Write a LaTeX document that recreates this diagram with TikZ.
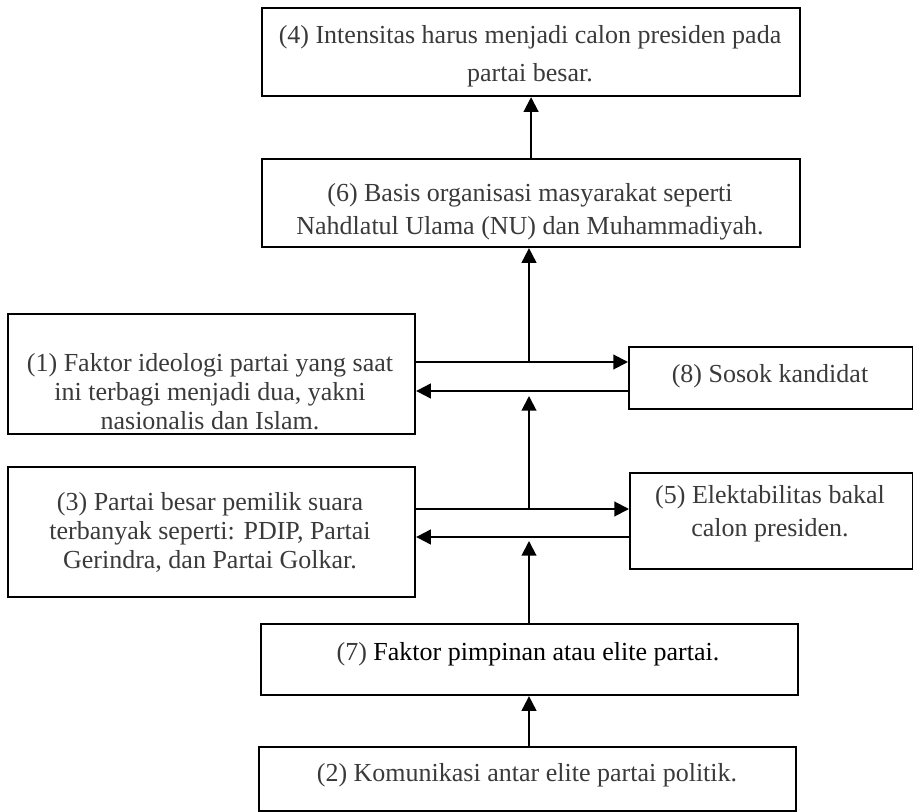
\documentclass[tikz,border=0pt]{standalone}
\usepackage{fontspec}
\setmainfont{Liberation Serif}
\usetikzlibrary{arrows.meta}
\definecolor{txt}{HTML}{3A3A3A}
\begin{document}
\begin{tikzpicture}[x=0.75pt,y=-0.75pt,
  box/.style={draw=black,line width=1.6pt,inner sep=0pt,anchor=north west},
  lbl/.style={text=txt,align=center,font=\fontsize{19.5}{21.75}\selectfont,inner sep=0pt},
  wide/.style={font=\fontsize{19.5}{#1}\selectfont},
  arr/.style={-{Triangle[length=11pt,width=11pt]},line width=1.5pt}]
\useasboundingbox (0,0) rectangle (913,812);
% boxes
\node[box,minimum width=403.5pt,minimum height=66pt] (b4) at (261,7) {};
\node[box,minimum width=403.5pt,minimum height=66pt] (b6) at (261,158) {};
\node[box,minimum width=305.25pt,minimum height=90pt] (b1) at (7,313) {};
\node[box,minimum width=213pt,minimum height=46.5pt] (b8) at (628,346) {};
\node[box,minimum width=305.25pt,minimum height=97.5pt] (b3) at (7,466) {};
\node[box,minimum width=212.25pt,minimum height=72pt] (b5) at (629,472) {};
\node[box,minimum width=402.75pt,minimum height=53.25pt] (b7) at (260,623) {};
\node[box,minimum width=402.75pt,minimum height=48pt] (b2) at (258,746) {};
% texts
\node[lbl,wide=28.5] (t4) at (530,56) {(4) Intensitas harus menjadi calon presiden pada\\partai besar.};
\node[lbl,wide=25] (t6) at (530,212) {(6) Basis organisasi masyarakat seperti\\Nahdlatul Ulama (NU) dan Muhammadiyah.};
\node[lbl] (t1) at (210,392) {(1) Faktor ideologi partai yang saat\\ini terbagi menjadi dua, yakni\\nasionalis dan Islam.};
\node[lbl] (t8) at (770,376) {(8) Sosok kandidat};
\node[lbl] (t3) at (210,532) {(3) Partai besar pemilik suara\\terbanyak seperti: PDIP, Partai\\Gerindra, dan Partai Golkar.};
\node[lbl,wide=24.5] (t5) at (770,514) {(5) Elektabilitas bakal\\calon presiden.};
\node[lbl,text=black] (t7) at (528,654) {{\color{txt}(7)} Faktor pimpinan atau elite partai.};
\node[lbl] (t2) at (527,775) {(2) Komunikasi antar elite partai politik.};
% junctions
\coordinate (j1) at (529,362);
\coordinate (k1) at (529,391);
\coordinate (j2) at (529,509);
\coordinate (k2) at (529,537);
\coordinate (e2) at (529,396);
\coordinate (e3) at (529,541);
% connectors
\draw[arr] (b6.north) -- (b4.south);
\draw[arr] (j1) -- (j1 |- b6.south);
\draw[arr] (b1.east |- j1) -- (b8.west |- j1);
\draw[arr] (b8.west |- k1) -- (b1.east |- k1);
\draw[arr] (j2) -- (e2);
\draw[arr] (b3.east |- j2) -- (b5.west |- j2);
\draw[arr] (b5.west |- k2) -- (b3.east |- k2);
\draw[arr] (b7.north -| j2) -- (e3);
\draw[arr] (b2.north -| j2) -- (b7.south -| j2);
\end{tikzpicture}
\end{document}
